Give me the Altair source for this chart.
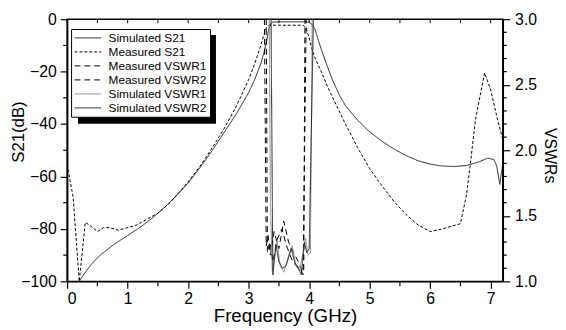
import altair as alt
import pandas as pd

# ---------------- data ----------------
series_names = ["Simulated S21", "Measured S21", "\u2004Measured VSWR1",
                "Measured VSWR2", "Simulated VSWR1", "Simulated VSWR2"]

sim_s21_f = [0.2, 0.3, 0.4, 0.5, 0.6, 0.8, 1.0, 1.2, 1.4, 1.6, 1.8, 2.0, 2.2, 2.4,
             2.6, 2.8, 3.0, 3.1, 3.2, 3.25, 3.3, 3.33, 3.36, 3.4, 3.6, 3.8, 3.95,
             4.0, 4.05, 4.1, 4.15, 4.2, 4.3, 4.4, 4.5, 4.6, 4.8, 5.0, 5.2, 5.4,
             5.6, 5.8, 6.0, 6.2, 6.4, 6.6, 6.8, 6.95, 7.05, 7.1, 7.15, 7.2]
sim_s21_db = [-100, -96.5, -93.5, -91, -89, -85.5, -82.5, -79.5, -76, -72, -67.5,
              -62.5, -56.5, -50, -43, -36, -28, -23, -17, -13, -8, -4, -1.8, -1.1,
              -1.0, -1.0, -1.0, -1.2, -2, -4, -8, -11.5, -18, -24, -29, -33, -38.5,
              -43, -46.5, -49.5, -52, -54, -55.3, -56, -56.2, -55.8, -54.5, -53,
              -53.5, -56, -63, -55]

meas_s21_f = [0.0, 0.1, 0.2, 0.3, 0.4, 0.5, 0.6, 0.7, 0.85, 1.0, 1.15, 1.3, 1.5,
              1.7, 2.0, 2.2, 2.4, 2.6, 2.8, 3.0, 3.1, 3.2, 3.25, 3.3, 3.35, 3.6,
              3.9, 3.95, 4.0, 4.05, 4.1, 4.2, 4.3, 4.4, 4.6, 4.8, 5.0, 5.2, 5.4,
              5.6, 5.8, 6.0, 6.2, 6.5, 6.6, 6.66, 6.75, 6.9, 7.0, 7.1, 7.2]
meas_s21_db = [-55.5, -68, -100, -77.5, -79, -81, -79.5, -79.5, -80.5, -79.5,
               -78.5, -76.5, -74, -70, -62, -56, -49, -41.5, -33, -23, -17, -10,
               -6, -3, -2.3, -2.3, -2.3, -3.5, -7, -12, -15, -20, -25.5, -30.5,
               -40, -49, -57, -63.5, -69.5, -74.5, -78.5, -81, -80, -78, -67,
               -56, -38, -20.5, -27, -37, -46]

meas_v1_f = [3.26, 3.29, 3.32, 3.36, 3.42, 3.5, 3.58, 3.66, 3.74, 3.82, 3.88, 3.91, 3.93]
meas_v1 = [3.0, 1.27, 1.35, 1.2, 1.38, 1.25, 1.46, 1.3, 1.22, 1.15, 1.08, 1.07, 3.0]

meas_v2_f = [3.29, 3.31, 3.35, 3.4, 3.47, 3.55, 3.62, 3.7, 3.78, 3.85, 3.9, 3.95]
meas_v2 = [3.0, 1.22, 1.3, 1.15, 1.32, 1.4, 1.28, 1.18, 1.12, 1.1, 1.05, 3.0]

sim_v1_f = [3.34, 3.36, 3.39, 3.44, 3.47, 3.52, 3.58, 3.65, 3.72, 3.78, 3.84,
            3.89, 3.94, 3.98, 4.02, 4.05]
sim_v1 = [3.0, 1.6, 1.08, 1.22, 1.3, 1.12, 1.07, 1.18, 1.27, 1.12, 1.08, 1.2,
          1.33, 1.2, 1.22, 3.0]

sim_v2_f = [3.37, 3.40, 3.45, 3.5, 3.56, 3.62, 3.7, 3.76, 3.82, 3.87, 3.92, 3.96,
            4.0, 4.07]
sim_v2 = [3.0, 1.05, 1.28, 1.15, 1.1, 1.12, 1.25, 1.15, 1.1, 1.05, 1.3, 1.22,
          1.25, 3.0]

x_labels = [0, 1, 2, 3, 4, 5, 6, 7]
x_minor = [0.5, 1.5, 2.5, 3.5, 4.5, 5.5, 6.5]
x_top = [0, 0.5, 1, 1.5, 2, 2.5, 3, 3.5, 4, 4.5, 5, 5.5, 6, 6.5, 7]
db_labels = [-100, -80, -60, -40, -20, 0]
db_minor = [-90, -70, -50, -30, -10]
vswr_labels = [1.0, 1.5, 2.0, 2.5, 3.0]
vswr_minor = [1.1, 1.2, 1.3, 1.4, 1.6, 1.7, 1.8, 1.9, 2.1, 2.2, 2.3, 2.4,
              2.6, 2.7, 2.8, 2.9]

# ---------------- styles ----------------
line_colors = ["#222222", "#000000", "#000000", "#000000", "#888888", "#222222"]
line_dashes = [[1, 0], [3, 2], [6, 4], [6, 4], [1, 0], [1, 0]]
line_widths = [1.0, 1.0, 1.2, 1.2, 1.6, 1.1]

FONT = "Liberation Sans"
W, H = 442, 266
XMAX = 7.2


def frame(fs, vs, name):
    return pd.DataFrame({"f": fs, "v": vs, "series": name, "i": range(len(fs))})


s21_df = pd.concat([frame(sim_s21_f, sim_s21_db, series_names[0]),
                    frame(meas_s21_f, meas_s21_db, series_names[1])])
vswr_df = pd.concat([frame(meas_v1_f, meas_v1, series_names[2]),
                     frame(meas_v2_f, meas_v2, series_names[3]),
                     frame(sim_v1_f, sim_v1, series_names[4]),
                     frame(sim_v2_f, sim_v2, series_names[5])])

xscale = alt.Scale(domain=[0, XMAX], nice=False, zero=False)
dbscale = alt.Scale(domain=[-100, 0], nice=False, zero=False)
vscale = alt.Scale(domain=[1, 3], nice=False, zero=False)

color_enc = alt.Color("series:N", scale=alt.Scale(domain=series_names, range=line_colors),
                      legend=alt.Legend(title=None))
dash_enc = alt.StrokeDash("series:N", scale=alt.Scale(domain=series_names, range=line_dashes),
                          legend=alt.Legend(title=None))
width_enc = alt.StrokeWidth("series:N", scale=alt.Scale(domain=series_names, range=line_widths),
                            legend=alt.Legend(title=None))

axis_common = dict(grid=False, domainColor="black", domainWidth=1.5, tickColor="black",
                   tickWidth=1.2, labelColor="black", titleColor="black",
                   labelFont=FONT, titleFont=FONT, labelFontSize=16,
                   titleFontWeight="normal", tickSize=7, titleBaseline="alphabetic",
                   titleAlign="center")

x_axis = alt.Axis(orient="bottom", values=x_labels, format="d", title="Frequency (GHz)",
                  labelPadding=2, titleFontSize=19, titleX=W / 2, titleY=41,
                  titleAngle=0, **axis_common)
db_axis = alt.Axis(orient="left", values=db_labels, format="d", title="S21(dB)",
                   labelPadding=4, titleFontSize=17, titleX=-44, titleY=114,
                   titleAngle=270, **axis_common)
v_axis = alt.Axis(orient="right", values=vswr_labels, format=".1f", title="VSWRs",
                  labelPadding=5, titleFontSize=16, titleX=42, titleY=138,
                  titleAngle=90, **axis_common)

X = alt.X("f:Q", scale=xscale, axis=x_axis)

# legend shadow (decoration, drawn behind the legend box)
shadow = alt.Chart(pd.DataFrame({"a": [0]})).mark_rect(color="black").encode(
    x=alt.value(11), x2=alt.value(151), y=alt.value(16), y2=alt.value(106))

s21_lines = alt.Chart(s21_df).mark_line(clip=True).encode(
    x=X, y=alt.Y("v:Q", scale=dbscale, axis=db_axis),
    color=color_enc, strokeDash=dash_enc, strokeWidth=width_enc,
    order=alt.Order("i:Q"))

vswr_lines = alt.Chart(vswr_df).mark_line(clip=True).encode(
    x=X, y=alt.Y("v:Q", scale=vscale, axis=v_axis),
    color=color_enc, strokeDash=dash_enc, strokeWidth=width_enc,
    order=alt.Order("i:Q"))

db_minor_ticks = alt.Chart(pd.DataFrame({"v": db_minor})).mark_rule(
    color="black", strokeWidth=1.2).encode(
    y=alt.Y("v:Q", scale=dbscale, axis=None), x=alt.value(-4), x2=alt.value(0))

v_minor_ticks = alt.Chart(pd.DataFrame({"v": vswr_minor})).mark_rule(
    color="black", strokeWidth=1.2).encode(
    y=alt.Y("v:Q", scale=vscale, axis=None), x=alt.value(W), x2=alt.value(W + 4))

x_minor_ticks = alt.Chart(pd.DataFrame({"f": x_minor})).mark_rule(
    color="black", strokeWidth=1.2).encode(
    x=X, y=alt.value(H), y2=alt.value(H + 5))

x_top_ticks = alt.Chart(pd.DataFrame({"f": x_top})).mark_rule(
    color="black", strokeWidth=1).encode(
    x=X, y=alt.value(0), y2=alt.value(4))

chart = alt.layer(
    shadow, s21_lines, db_minor_ticks, vswr_lines, v_minor_ticks,
    x_minor_ticks, x_top_ticks
).resolve_scale(
    y="independent"
).properties(
    width=W, height=H,
    autosize=alt.AutoSizeParams(type="none"),
    padding={"left": 60, "top": 9, "right": 56, "bottom": 47},
    background="white",
).configure_view(
    stroke="black", strokeWidth=1.5
).configure_legend(
    orient="none", legendX=4, legendY=10, fillColor="white", strokeColor="black",
    padding=3, symbolType="stroke", symbolSize=729, clipHeight=12, rowPadding=2.2,
    labelOffset=7, labelFontSize=12, labelFont=FONT, labelColor="black",
    symbolStrokeColor="black", labelLimit=200,
)

chart.save("out.html", embed_options={"renderer": "svg", "actions": False})
